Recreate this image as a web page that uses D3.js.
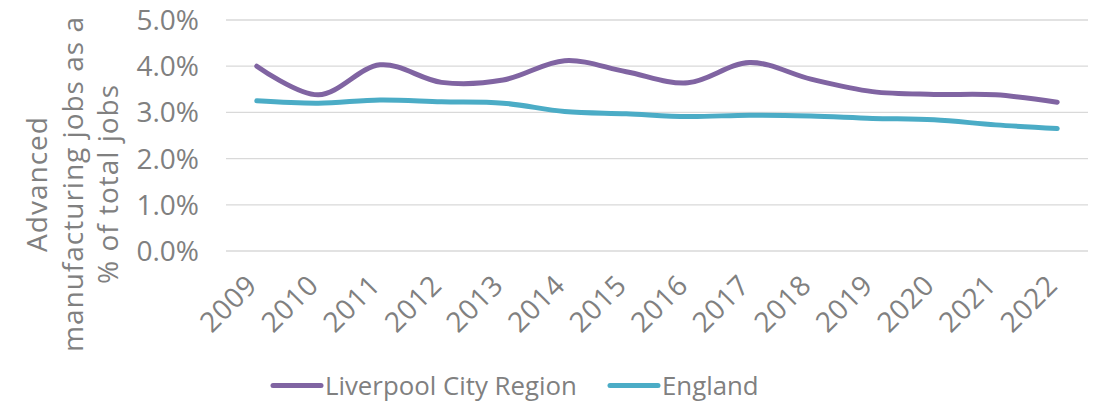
<!DOCTYPE html>
<html><head><meta charset="utf-8">
<script src="https://cdn.jsdelivr.net/npm/d3@7"></script>
<style>
body{margin:0;background:#fff;}
svg{display:block;font-family:"Open Sans",Lato,sans-serif;}
</style></head>
<body><svg id="c" width="1099" height="405"></svg>
<script>
const years = ["2009","2010","2011","2012","2013","2014","2015","2016","2017","2018","2019","2020","2021","2022"];
const lcr = [4.00,3.38,4.03,3.65,3.70,4.12,3.88,3.64,4.08,3.72,3.45,3.39,3.38,3.22];
const england = [3.25,3.20,3.27,3.23,3.20,3.02,2.97,2.91,2.94,2.92,2.87,2.84,2.73,2.65];
const yTicks = [0,1,2,3,4,5];
const seriesNames = ["Liverpool City Region","England"];
const colors = ["#8064A2","#4BACC6"];

const svg = d3.select("#c");
const pL = 226, pR = 1088, pT = 20, pB = 251;
const x = d3.scaleBand().domain(years).range([pL,pR]);
const y = d3.scaleLinear().domain([0,5]).range([pB,pT]);
const grey = "#808080";
const fs = 28;

// gridlines
svg.append("g").selectAll("line").data(yTicks).join("line")
  .attr("x1",pL).attr("x2",pR)
  .attr("y1",d=>y(d)).attr("y2",d=>y(d))
  .attr("stroke","#d9d9d9").attr("stroke-width",1.3);

// y tick labels
svg.append("g").selectAll("text").data(yTicks).join("text")
  .attr("x",199).attr("y",d=>y(d)).attr("dy","0.36em")
  .attr("text-anchor","end").attr("fill",grey).attr("font-size",fs)
  .text(d=>d.toFixed(1)+"%");

// x labels
svg.append("g").selectAll("text").data(years).join("text")
  .attr("transform",d=>`translate(${x(d)+x.bandwidth()/2+2},${287}) rotate(-45)`)
  .attr("text-anchor","end").attr("fill",grey).attr("font-size",fs)
  .attr("letter-spacing",0.6)
  .text(d=>d);

// y title
const tl = ["Advanced","manufacturing jobs as a","% of total jobs"];
const title = svg.append("text").attr("transform","translate(0,184) rotate(-90)")
  .attr("text-anchor","middle").attr("fill",grey).attr("font-size",fs)
  .attr("letter-spacing",1);
tl.forEach((t,i)=>title.append("tspan").attr("x",0).attr("y",47+i*35.5).text(t));

// lines
const line = d3.line().x((d,i)=>x(years[i])+x.bandwidth()/2).y(d=>y(d))
  .curve(d3.curveCatmullRom.alpha(0));
[lcr,england].forEach((s,i)=>{
  svg.append("path").attr("d",line(s)).attr("fill","none")
    .attr("stroke",colors[i]).attr("stroke-width",5).attr("stroke-linecap","round");
});

// legend
const lx = [273,610];
seriesNames.forEach((n,i)=>{
  svg.append("line").attr("x1",lx[i]).attr("x2",lx[i]+48).attr("y1",385.5).attr("y2",385.5)
    .attr("stroke",colors[i]).attr("stroke-width",5).attr("stroke-linecap","round");
  svg.append("text").attr("x",lx[i]+52).attr("y",394.5)
    .attr("fill",grey).attr("font-size",25.8).text(n);
});
</script></body></html>
